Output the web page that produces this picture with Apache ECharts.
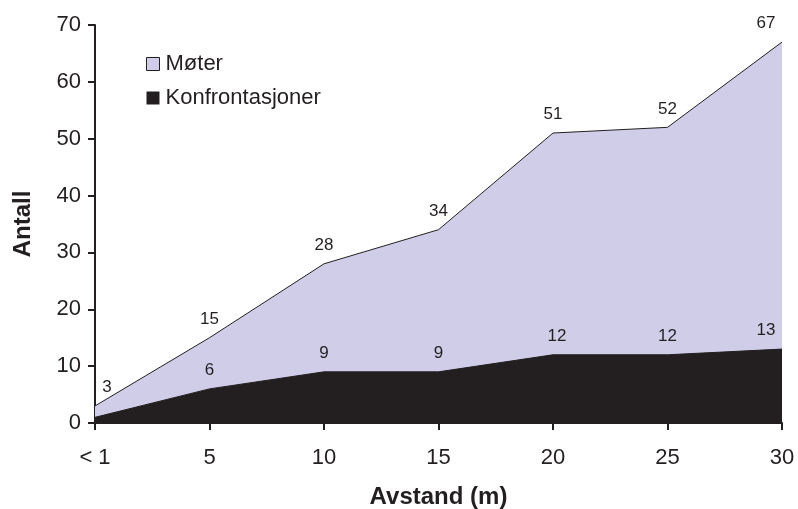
<!DOCTYPE html>
<html>
<head>
<meta charset="utf-8">
<script src="https://cdn.jsdelivr.net/npm/echarts@6/dist/echarts.min.js"></script>
<style>
html, body { margin: 0; padding: 0; background: #fff; }
#chart { width: 798px; height: 509px; }
</style>
</head>
<body>
<div id="chart"></div>
<script>
// distances along the x axis
const categories = ['< 1', '5', '10', '15', '20', '25', '30']
const moter = [3, 15, 28, 34, 51, 52, 67]
const konfrontasjoner = [1, 6, 9, 9, 12, 12, 13]
// label offsets per point (first/last shifted so they sit inside the plot)
const moterOffsets = [[12, 0], [0, 0], [0, 0], [0, 0], [0, 0], [0, 0], [-16, 0]]
const konfOffsets = [[0, 0], [0, 0], [0, 0], [0, 0], [4, 0], [0, 0], [-16, 0]]

const font = 'Liberation Sans, Arial, Helvetica, sans-serif'

function withLabels (values, offsets, hideFirst) {
  return values.map((v, i) => ({
    value: v,
    label: { show: !(hideFirst && i === 0), offset: offsets[i] }
  }))
}

const labelStyle = {
  show: true,
  position: 'top',
  distance: 10,
  fontSize: 17,
  color: '#231f20',
  fontFamily: font
}

const myChart = echarts.init(document.getElementById('chart'))
myChart.setOption({
  animation: false,
  textStyle: { fontFamily: font },
  grid: { left: 95, right: 16, top: 25, bottom: 86, containLabel: false, outerBoundsMode: 'none' },
  legend: {
    orient: 'vertical',
    left: 141,
    top: 48,
    itemWidth: 13,
    itemHeight: 13,
    itemGap: 12,
    icon: 'rect',
    textStyle: { fontSize: 22, color: '#231f20', fontFamily: font, padding: [0, 0, 0, 1] },
    data: [
      { name: 'Møter', itemStyle: { color: '#cfcde8', borderColor: '#231f20', borderWidth: 1 } },
      { name: 'Konfrontasjoner', itemStyle: { color: '#231f20' } }
    ]
  },
  xAxis: {
    type: 'category',
    boundaryGap: false,
    data: categories,
    name: 'Avstand (m)',
    nameLocation: 'middle',
    nameGap: 62,
    nameTextStyle: { fontSize: 24, fontWeight: 'bold', color: '#231f20', fontFamily: font },
    axisLine: { lineStyle: { color: '#231f20', width: 2 } },
    axisTick: { show: true, length: 7, lineStyle: { color: '#231f20', width: 2 }, alignWithLabel: true },
    axisLabel: { fontSize: 22, color: '#231f20', margin: 24, fontFamily: font },
    splitLine: { show: false }
  },
  yAxis: {
    type: 'value',
    min: 0,
    max: 70,
    interval: 10,
    name: 'Antall',
    nameLocation: 'middle',
    nameGap: 60,
    nameTextStyle: { fontSize: 24, fontWeight: 'bold', color: '#231f20', fontFamily: font },
    axisLine: { show: true, lineStyle: { color: '#231f20', width: 2 } },
    axisTick: { show: true, length: 7, lineStyle: { color: '#231f20', width: 2 } },
    axisLabel: { fontSize: 22, color: '#231f20', margin: 14, fontFamily: font },
    splitLine: { show: false }
  },
  series: [
    {
      name: 'Møter',
      type: 'line',
      data: withLabels(moter, moterOffsets, false),
      symbol: 'circle',
      symbolSize: 0,
      showSymbol: true,
      lineStyle: { color: '#231f20', width: 1 },
      itemStyle: { color: '#cfcde8' },
      areaStyle: { color: '#cfcde8', opacity: 1 },
      label: labelStyle,
      z: 1
    },
    {
      name: 'Konfrontasjoner',
      type: 'line',
      data: withLabels(konfrontasjoner, konfOffsets, true),
      symbol: 'circle',
      symbolSize: 0,
      showSymbol: true,
      lineStyle: { color: '#231f20', width: 1 },
      itemStyle: { color: '#231f20' },
      areaStyle: { color: '#231f20', opacity: 1 },
      label: labelStyle,
      z: 2
    }
  ]
})
</script>
</body>
</html>
